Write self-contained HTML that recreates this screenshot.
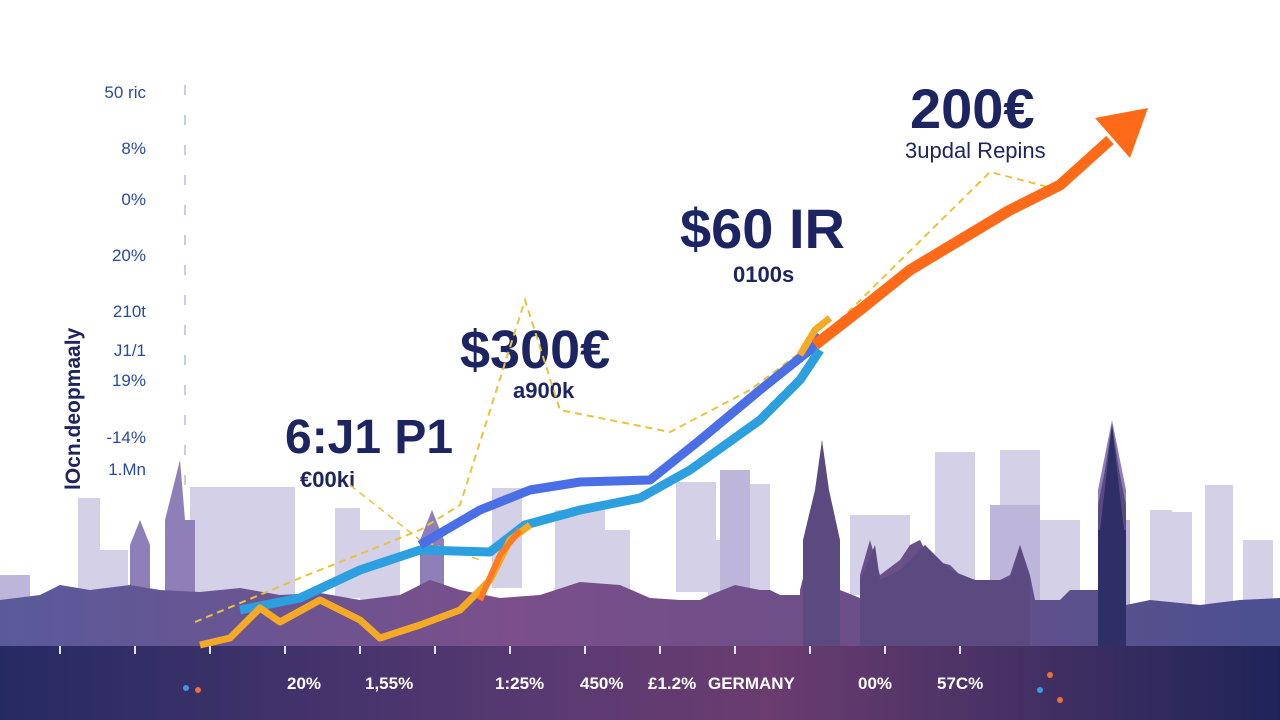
<!DOCTYPE html>
<html><head><meta charset="utf-8"><style>
html,body{margin:0;padding:0;background:#fff}
svg{display:block}
text{font-family:"Liberation Sans",sans-serif}
</style></head><body>
<svg width="1280" height="720" viewBox="0 0 1280 720" xmlns="http://www.w3.org/2000/svg">
<defs>
<linearGradient id="band" x1="0" x2="1" y1="0" y2="0">
<stop offset="0" stop-color="#262a63"/><stop offset="0.45" stop-color="#5c3a72"/><stop offset="0.6" stop-color="#6a3c70"/><stop offset="1" stop-color="#1f2458"/>
</linearGradient>
<linearGradient id="front" x1="0" x2="1" y1="0" y2="0">
<stop offset="0" stop-color="#5a5a9a"/><stop offset="0.4" stop-color="#7a4f8a"/><stop offset="0.7" stop-color="#6a4f88"/><stop offset="1" stop-color="#4a5090"/>
</linearGradient>
<linearGradient id="fade" x1="0" x2="0" y1="0" y2="1">
<stop offset="0" stop-color="#fff" stop-opacity="0"/><stop offset="1" stop-color="#fff" stop-opacity="0"/>
</linearGradient>
</defs>
<rect width="1280" height="720" fill="#fff"/>
<!-- back skyline -->
<g fill="#d4d0e8">
<rect x="78" y="498" width="22" height="110"/><rect x="100" y="550" width="28" height="60"/>
<rect x="190" y="487" width="50" height="120"/><rect x="230" y="487" width="65" height="110"/>
<rect x="335" y="508" width="25" height="90"/><rect x="360" y="530" width="40" height="70"/>
<rect x="492" y="488" width="30" height="100"/><rect x="555" y="510" width="50" height="80"/>
<rect x="590" y="530" width="40" height="60"/>
<rect x="676" y="482" width="40" height="110"/><rect x="735" y="484" width="35" height="110"/>
<rect x="708" y="540" width="50" height="60"/>
<rect x="850" y="515" width="60" height="80"/><rect x="935" y="452" width="40" height="140"/>
<rect x="1000" y="450" width="40" height="140"/><rect x="1040" y="520" width="40" height="80"/>
<rect x="1150" y="510" width="22" height="100"/><rect x="1172" y="512" width="20" height="95"/>
<rect x="1205" y="485" width="28" height="120"/><rect x="1243" y="540" width="30" height="70"/>
</g>
<g fill="#bdb6da">
<rect x="990" y="505" width="50" height="110"/><rect x="1100" y="520" width="30" height="100"/>
<rect x="720" y="470" width="30" height="130"/><rect x="0" y="575" width="30" height="40"/>
</g>
<!-- mid buildings -->
<g fill="#8f7fb8">
<polygon points="130,600 130,545 140,520 150,545 150,600"/>
<polygon points="165,600 165,520 180,460 185,520 195,520 195,600"/>
<polygon points="420,600 420,540 432,510 444,540 444,600"/>
<polygon points="1098,600 1098,490 1112,420 1126,490 1126,600"/>
</g>
<!-- front skyline -->
<path fill="url(#front)" d="M0,646 L0,600 L40,595 L60,585 L90,590 L130,585 L160,590 L200,592 L240,588 L280,595 L320,593 L360,600 L400,595 L430,580 L460,590 L500,598 L540,595 L580,582 L620,585 L650,598 L680,600 L700,600 L710,595 L735,585 L760,590 L770,590 L780,595 L800,595 L800,590 L815,530 L818,480 L822,440 L826,480 L832,530 L840,590 L860,598 L860,575 L870,540 L880,575 L900,560 L910,545 L920,540 L930,560 L950,565 L960,575 L975,580 L990,585 L1010,575 L1020,545 L1030,575 L1035,600 L1060,600 L1070,590 L1098,590 L1098,505 L1105,470 L1112,425 L1119,470 L1126,505 L1126,605 L1150,600 L1200,605 L1240,600 L1280,598 L1280,646 Z"/>
<g fill="#5a4a80">
<polygon points="803,646 803,540 815,490 822,440 829,490 840,540 840,646"/>
<polygon points="1098,646 1098,510 1105,470 1112,425 1119,470 1126,510 1126,646"/>
<polygon points="860,646 860,580 875,545 880,580 900,570 925,545 950,570 975,580 1010,580 1020,545 1030,580 1030,646"/>
</g>
<rect x="1098" y="530" width="28" height="116" fill="#2e2f66"/>
<polygon points="1100,530 1112,425 1124,530" fill="#2e2f66"/>
<!-- bottom band -->
<rect x="0" y="646" width="1280" height="74" fill="url(#band)"/>
<!-- left axis -->
<line x1="185" y1="85" x2="185" y2="500" stroke="#c8cde6" stroke-width="2" stroke-dasharray="10 20"/>
<g fill="#2a4aa0" font-size="17" text-anchor="end">
<text x="146" y="98">50 ric</text><text x="146" y="154">8%</text><text x="146" y="205">0%</text>
<text x="146" y="261">20%</text><text x="146" y="317">210t</text><text x="146" y="356">J1/1</text>
<text x="146" y="386">19%</text><text x="146" y="443">-14%</text><text x="146" y="475">1.Mn</text>
</g>
<text transform="translate(80,490) rotate(-90)" font-size="21" fill="#1d2460" font-weight="bold">lOcn.deopmaaly</text>
<!-- big labels -->
<g fill="#1c2562" font-weight="bold">
<text x="910" y="128" font-size="56">200€</text>
<text x="905" y="158" font-size="22" font-weight="normal">3updal Repins</text>
<text x="680" y="248" font-size="56">$60 IR</text>
<text x="733" y="282" font-size="22">0100s</text>
<text x="460" y="368" font-size="54">$300€</text>
<text x="513" y="398" font-size="22">a900k</text>
<text x="285" y="453" font-size="48">6:J1 P1</text>
<text x="300" y="487" font-size="22">€00ki</text>
</g>
<!-- dashed line -->
<polyline fill="none" stroke="#e8c43a" stroke-width="2" stroke-dasharray="7 5" points="195,622 300,578 420,530 460,505 525,300 560,410 670,432 750,390 830,330 990,172 1060,190"/>
<polyline fill="none" stroke="#e8c43a" stroke-width="1.5" stroke-dasharray="7 5" points="350,485 420,540 480,560"/>
<!-- series -->
<polyline fill="none" stroke="#2b9fe0" stroke-width="9" stroke-linejoin="round" points="240,610 300,598 360,570 420,550 490,552 525,525 580,510 640,498 690,470 760,420 800,380 820,350"/>
<polyline fill="none" stroke="#4a6ee6" stroke-width="9" stroke-linejoin="round" points="420,545 480,510 530,490 580,482 650,480 700,440 760,390 810,350 820,335"/>
<polyline fill="none" stroke="#f5aa25" stroke-width="7" stroke-linejoin="round" points="200,645 230,638 260,608 280,622 320,600 360,620 380,638 420,625 460,610 490,580 510,540 530,525"/>
<polyline fill="none" stroke="#ff7a20" stroke-width="6" points="480,600 500,555 520,530"/>
<polyline fill="none" stroke="#f5aa25" stroke-width="7" points="800,355 815,330 830,318"/>
<polyline fill="none" stroke="#ff6a18" stroke-width="11" stroke-linejoin="round" points="815,345 860,310 910,270 960,240 1010,210 1060,185 1110,140"/>
<polygon points="1095,118 1148,108 1130,158" fill="#ff6a18"/>
<!-- ticks on band -->
<g stroke="#e0e4f4" stroke-width="2">
<line x1="60" y1="646" x2="60" y2="654"/><line x1="135" y1="646" x2="135" y2="654"/><line x1="210" y1="646" x2="210" y2="654"/><line x1="285" y1="646" x2="285" y2="654"/><line x1="360" y1="646" x2="360" y2="654"/><line x1="435" y1="646" x2="435" y2="654"/><line x1="510" y1="646" x2="510" y2="654"/><line x1="585" y1="646" x2="585" y2="654"/><line x1="660" y1="646" x2="660" y2="654"/><line x1="735" y1="646" x2="735" y2="654"/><line x1="810" y1="646" x2="810" y2="654"/><line x1="885" y1="646" x2="885" y2="654"/><line x1="960" y1="646" x2="960" y2="654"/>
</g>
<g fill="#fff" font-size="17" font-weight="bold">
<text x="287" y="689">20%</text><text x="365" y="689">1,55%</text><text x="495" y="689">1:25%</text>
<text x="580" y="689">450%</text><text x="648" y="689">£1.2%</text><text x="708" y="689">GERMANY</text>
<text x="858" y="689">00%</text><text x="937" y="689">57C%</text>
</g>
<g fill="#e8703a"><circle cx="198" cy="690" r="3"/><circle cx="1050" cy="675" r="3"/><circle cx="1060" cy="700" r="3"/></g>
<g fill="#3a9ae0"><circle cx="186" cy="688" r="3"/><circle cx="1040" cy="690" r="3"/></g>
</svg>
</body></html>
